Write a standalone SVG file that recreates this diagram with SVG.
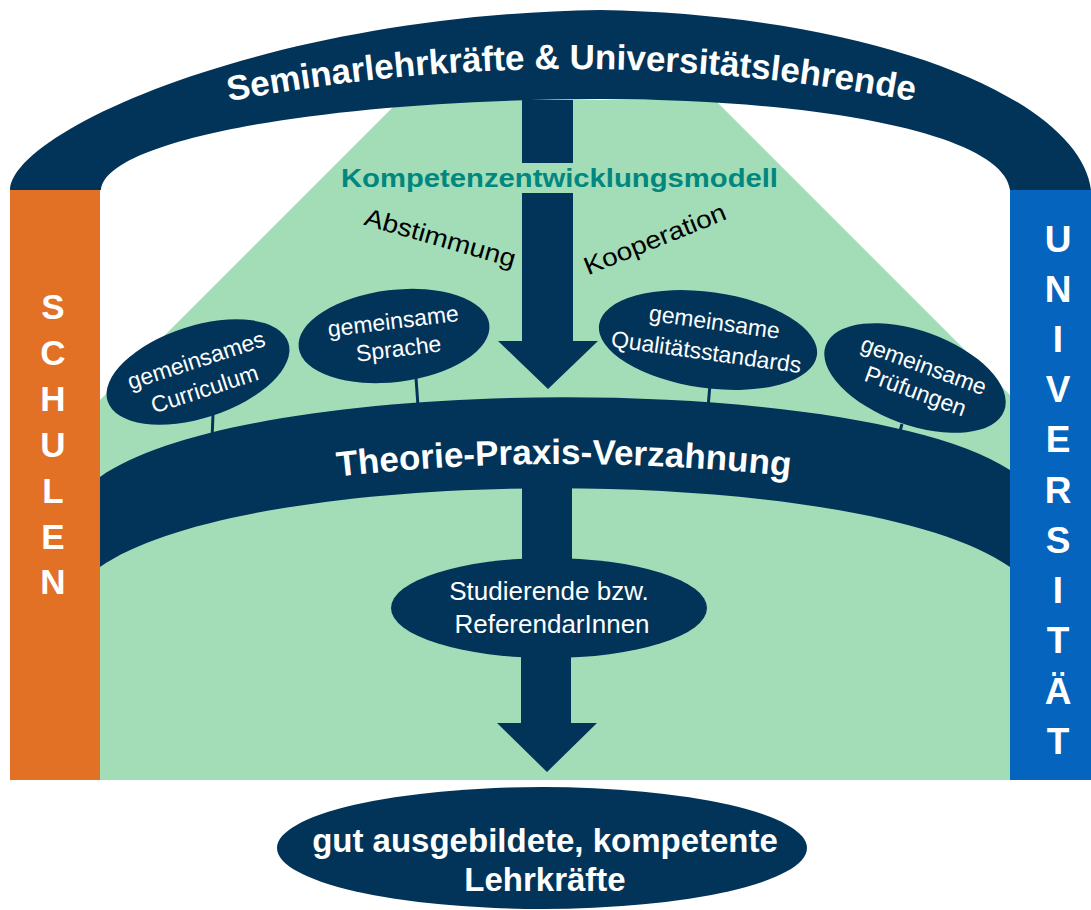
<svg xmlns="http://www.w3.org/2000/svg" width="1091" height="910" viewBox="0 0 1091 910">
<style>
.navy{fill:#023459}
.w{fill:#fff;font-family:"Liberation Sans",Arial,sans-serif}
.b{font-weight:bold}
.lbl{font-size:23px;text-anchor:middle}
.let{font-size:35px;font-weight:bold;text-anchor:middle}
.blk{fill:#000;font-family:"Liberation Sans",Arial,sans-serif;font-size:25px}
.ln{stroke:#023459;stroke-width:3;fill:none}
</style>
<defs>
<path id="archText" d="M225,102 Q571,36 918,102"/>
<path id="bandText" d="M324,478 Q564,450 804,478"/>
</defs>
<rect width="1091" height="910" fill="#fff"/>
<g id="field">
<polygon points="400,100 715,100 1010,395 1010,780 100,780 100,400" fill="#A3DDB7"/>
</g>
<g id="schulen">
<rect x="10" y="190" width="90" height="590" fill="#E27125"/>
<g class="w let">
<text x="53" y="319">S</text><text x="53" y="365">C</text><text x="53" y="411">H</text><text x="53" y="457">U</text><text x="53" y="503">L</text><text x="53" y="549">E</text><text x="53" y="594">N</text>
</g>
</g>
<g id="universitaet">
<rect x="1010" y="190" width="81" height="590" fill="#0464BE"/>
<g class="w let" style="font-size:37px">
<text x="1058" y="252">U</text><text x="1058" y="302">N</text><text x="1058" y="352">I</text><text x="1058" y="402">V</text><text x="1058" y="452">E</text><text x="1058" y="503">R</text><text x="1058" y="553">S</text><text x="1058" y="603">I</text><text x="1058" y="653">T</text><text x="1058" y="704">Ä</text><text x="1058" y="754">T</text>
</g>
</g>
<g id="arch">
<path class="navy" d="M10,190 C12,130 270,15 600,10 C880,15 1080,100 1091,190 L1010,190 C1005,140 850,100 600,99 C320,100 105,140 101,190 Z"/>
<text class="w b" font-size="35"><textPath href="#archText" startOffset="50%" text-anchor="middle">Seminarlehrkräfte &amp; Universitätslehrende</textPath></text>
</g>
<g id="connectors">
<polygon class="navy" points="522,100 573,100 573,341 598,341 548,389 498,341 522,341"/>
<rect x="510" y="163" width="76" height="30" fill="#A3DDB7"/>
<rect class="navy" x="522" y="478" width="50" height="94"/>
<polygon class="navy" points="521,648 571,648 571,723 597,723 547,772 497,723 521,723"/>
<line class="ln" x1="213" y1="414" x2="212" y2="440"/>
<line class="ln" x1="416" y1="378" x2="418" y2="406"/>
<line class="ln" x1="710" y1="384" x2="708" y2="408"/>
<line class="ln" x1="902" y1="424" x2="897" y2="442"/>
</g>
<g id="kompetenz">
<text x="341" y="187" font-family="Liberation Sans,Arial,sans-serif" font-weight="bold" font-size="26" fill="#00877F" textLength="437" lengthAdjust="spacingAndGlyphs">Kompetenzentwicklungsmodell</text>
</g>
<g id="abstimmung">
<text class="blk" transform="translate(438,246) rotate(16)" x="0" y="0" text-anchor="middle" textLength="156" lengthAdjust="spacingAndGlyphs">Abstimmung</text>
</g>
<g id="kooperation">
<text class="blk" transform="translate(658,247) rotate(-22)" x="0" y="0" text-anchor="middle" textLength="151" lengthAdjust="spacingAndGlyphs">Kooperation</text>
</g>
<g id="band">
<path class="navy" d="M100,477 C250,372 860,372 1010,470 L1010,567 C860,462 250,462 100,567 Z"/>
<text class="w b" font-size="35"><textPath href="#bandText" startOffset="50%" text-anchor="middle">Theorie-Praxis-Verzahnung</textPath></text>
</g>
<g id="curriculum" transform="translate(198,372) rotate(-18)">
<ellipse class="navy" rx="95" ry="46"/>
<text class="w lbl" x="2" y="-4">gemeinsames</text>
<text class="w lbl" x="1" y="26">Curriculum</text>
</g>
<g id="sprache" transform="translate(394,336) rotate(-7)">
<ellipse class="navy" rx="96" ry="46"/>
<text class="w lbl" x="1" y="-7">gemeinsame</text>
<text class="w lbl" x="3" y="21">Sprache</text>
</g>
<g id="qualitaet" transform="translate(708,340) rotate(8)">
<ellipse class="navy" rx="110" ry="48"/>
<text class="w lbl" x="4" y="-11">gemeinsame</text>
<text class="w lbl" x="0" y="20">Qualitätsstandards</text>
</g>
<g id="pruefungen" transform="translate(915,378) rotate(20)">
<ellipse class="navy" rx="95" ry="47"/>
<text class="w lbl" x="4" y="-7">gemeinsame</text>
<text class="w lbl" x="5" y="20">Prüfungen</text>
</g>
<g id="studierende">
<ellipse class="navy" cx="549" cy="608" rx="158" ry="50"/>
<text class="w" x="549" y="600" font-size="26" text-anchor="middle">Studierende bzw.</text>
<text class="w" x="552" y="633" font-size="26" text-anchor="middle">ReferendarInnen</text>
</g>
<g id="lehrkraefte">
<ellipse class="navy" cx="542" cy="848" rx="265" ry="61"/>
<text class="w b" x="545" y="852" font-size="33" text-anchor="middle">gut ausgebildete, kompetente</text>
<text class="w b" x="545" y="891" font-size="33" text-anchor="middle">Lehrkräfte</text>
</g>
</svg>
